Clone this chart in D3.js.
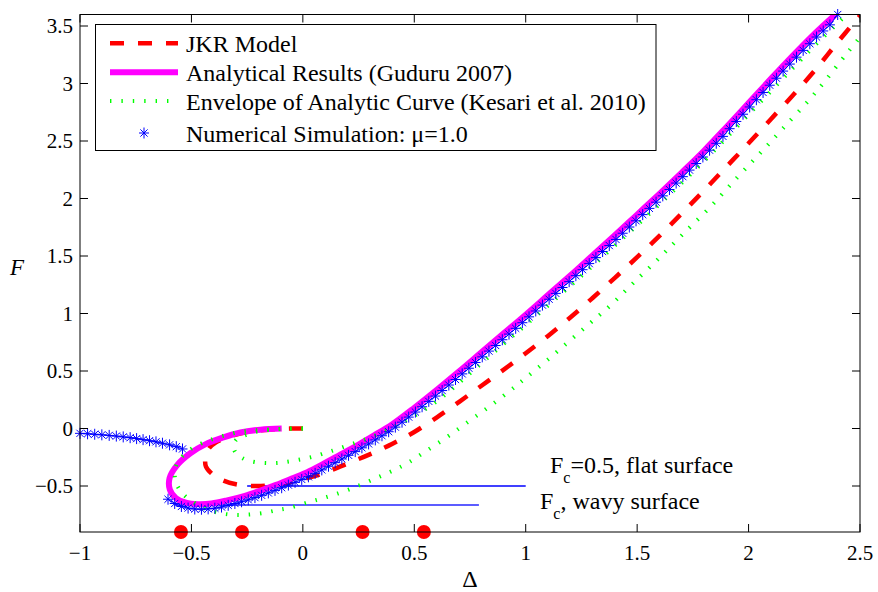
<!DOCTYPE html>
<html><head><meta charset="utf-8">
<script src="https://cdn.jsdelivr.net/npm/d3@7"></script>
<style>body{margin:0;background:#fff}svg{display:block}svg text{font-family:"Liberation Serif","Times New Roman",serif}</style>
</head><body>
<svg id="c" width="878" height="592"></svg>
<script>
// ---------- data ----------
const xTicks = [-1, -0.5, 0, 0.5, 1, 1.5, 2, 2.5];
const yTicks = [-0.5, 0, 0.5, 1, 1.5, 2, 2.5, 3, 3.5];
const legendLabels = ["JKR Model", "Analytical Results (Guduru 2007)", "Envelope of Analytic Curve (Kesari et al. 2010)", "Numerical Simulation: \u03bc=1.0"];

const jkrDelta = [0,-0.06,-0.15,-0.25,-0.33,-0.39,-0.42,-0.437,-0.435,-0.41,-0.36,-0.3,-0.22,-0.15,-0.08,0,0.06,0.13,0.2,0.3,0.4,0.5,0.6,0.7,0.8,0.9,1.0,1.1,1.2,1.3,1.4,1.5,1.6,1.7,1.8,1.9,2.0,2.1,2.2,2.3,2.4,2.5,2.55];
const jkrF = [0,-0.001,-0.01,-0.03,-0.07,-0.12,-0.17,-0.25,-0.33,-0.39,-0.45,-0.485,-0.5,-0.495,-0.475,-0.44,-0.41,-0.36,-0.305,-0.225,-0.135,-0.03,0.095,0.23,0.37,0.51,0.655,0.805,0.965,1.135,1.31,1.49,1.675,1.87,2.07,2.275,2.48,2.69,2.9,3.12,3.36,3.59,3.7];

const analyticDelta = [-0.095,-0.19,-0.28,-0.36,-0.44,-0.505,-0.565,-0.598,-0.597,-0.57,-0.525,-0.47,-0.41,-0.34,-0.26,-0.19,-0.12,-0.05,0.02,0.09,0.17,0.25,0.32,0.4,0.5,0.6,0.7,0.8,0.9,1.0,1.1,1.2,1.3,1.4,1.5,1.6,1.7,1.8,1.9,2.0,2.1,2.2,2.3,2.39];
const analyticF = [0.0,-0.01,-0.035,-0.08,-0.14,-0.215,-0.32,-0.43,-0.53,-0.605,-0.645,-0.658,-0.652,-0.625,-0.585,-0.54,-0.49,-0.435,-0.38,-0.31,-0.225,-0.14,-0.06,0.035,0.18,0.335,0.495,0.66,0.825,0.99,1.16,1.33,1.505,1.68,1.86,2.04,2.225,2.415,2.62,2.83,3.04,3.245,3.44,3.6];

const envInnerDelta = [0,-0.045,-0.11,-0.18,-0.235,-0.275,-0.3,-0.31,-0.305,-0.285,-0.255,-0.21,-0.155,-0.105,-0.055,0,0.05,0.1,0.15,0.213,0.28,0.35,0.42,0.5,0.6,0.7,0.8,0.9,1.0,1.2,1.4,1.6,1.8,2.0,2.2,2.3,2.44];
const envInnerF = [0,-0.001,-0.006,-0.018,-0.042,-0.072,-0.1,-0.15,-0.2,-0.24,-0.272,-0.293,-0.301,-0.298,-0.285,-0.265,-0.243,-0.213,-0.182,-0.14,-0.095,-0.04,0.025,0.11,0.235,0.395,0.565,0.735,0.9,1.24,1.59,1.95,2.325,2.73,3.135,3.335,3.6];

const envOuterDelta = [0,-0.08,-0.17,-0.27,-0.35,-0.43,-0.495,-0.54,-0.566,-0.575,-0.565,-0.535,-0.48,-0.42,-0.36,-0.3,-0.24,-0.18,-0.12,-0.06,0.03,0.1,0.18,0.26,0.33,0.4,0.47,0.55,0.65,0.75,0.85,0.95,1.0,1.1,1.27,1.38,1.48,1.59,1.7,1.83,1.95,2.05,2.15,2.3,2.44,2.52];
const envOuterF = [0,-0.002,-0.01,-0.025,-0.06,-0.11,-0.17,-0.24,-0.31,-0.4,-0.49,-0.575,-0.655,-0.71,-0.74,-0.752,-0.748,-0.735,-0.712,-0.69,-0.638,-0.6,-0.55,-0.49,-0.43,-0.37,-0.3,-0.2,-0.07,0.07,0.21,0.36,0.44,0.6,0.885,1.07,1.26,1.465,1.68,1.93,2.185,2.39,2.6,2.92,3.26,3.45];

const simLeftDelta = [-1.0,-0.966,-0.934,-0.902,-0.869,-0.837,-0.806,-0.775,-0.746,-0.717,-0.688,-0.659,-0.63,-0.598,-0.568,-0.54];
const simLeftF = [-0.042,-0.046,-0.05,-0.055,-0.06,-0.066,-0.073,-0.08,-0.088,-0.097,-0.106,-0.116,-0.128,-0.142,-0.158,-0.178];

const simMainDelta = [-0.605,-0.575,-0.545,-0.515,-0.485,-0.455,-0.425,-0.395,-0.365,-0.335,-0.305,-0.275,-0.245,-0.215,-0.185,-0.155,-0.125,-0.095,-0.065,-0.035,-0.005,0.025,0.055,0.085,0.115,0.145,0.175,0.205,0.235,0.265,0.295,0.325,0.355,0.385,0.415,0.445,0.475,0.505,0.535,0.565,0.595,0.625,0.655,0.685,0.715,0.745,0.775,0.805,0.835,0.865,0.895,0.925,0.955,0.985,1.015,1.045,1.075,1.105,1.135,1.165,1.195,1.225,1.255,1.285,1.315,1.345,1.375,1.405,1.435,1.465,1.495,1.525,1.555,1.585,1.615,1.645,1.675,1.705,1.735,1.765,1.795,1.825,1.855,1.885,1.915,1.945,1.975,2.005,2.035,2.065,2.095,2.125,2.155,2.185,2.215,2.245,2.275,2.305,2.335,2.365,2.4];
const simMainF = [-0.615,-0.652,-0.678,-0.692,-0.7,-0.702,-0.699,-0.693,-0.683,-0.668,-0.652,-0.637,-0.62,-0.601,-0.581,-0.56,-0.538,-0.515,-0.492,-0.468,-0.443,-0.42,-0.39,-0.36,-0.328,-0.297,-0.265,-0.233,-0.201,-0.168,-0.134,-0.099,-0.063,-0.028,0.012,0.055,0.099,0.143,0.189,0.236,0.282,0.33,0.378,0.426,0.475,0.524,0.574,0.623,0.673,0.722,0.772,0.821,0.871,0.92,0.971,1.022,1.073,1.124,1.175,1.226,1.277,1.329,1.381,1.434,1.486,1.539,1.591,1.644,1.698,1.752,1.806,1.86,1.914,1.968,2.023,2.078,2.134,2.19,2.247,2.304,2.361,2.42,2.48,2.54,2.607,2.67,2.733,2.796,2.859,2.922,2.985,3.046,3.108,3.169,3.229,3.288,3.346,3.404,3.457,3.51,3.6];

const flatFc = -0.5, flatRange = [-0.25, 1.0];
const wavyFc = -0.665, wavyRange = [-0.577, 0.79];
const dotDelta = [-0.547, -0.273, 0.268, 0.543];
const dotF = [-0.9, -0.9, -0.9, -0.9];

// ---------- drawing ----------
const zip = (a, b) => a.map((v, i) => [v, b[i]]);
const x = d3.scaleLinear().domain([-1, 2.5]).range([80, 860]);
const y = d3.scaleLinear().domain([-0.9, 3.6]).range([532, 14.5]);
const svg = d3.select("#c");
svg.append("rect").attr("width", 878).attr("height", 592).attr("fill", "#fff");
svg.append("defs").append("clipPath").attr("id", "clip").append("rect")
  .attr("x", x(-1)).attr("y", y(3.6)).attr("width", x(2.5) - x(-1)).attr("height", y(-0.9) - y(3.6));

const smooth = d3.line().x(d => x(d[0])).y(d => y(d[1])).curve(d3.curveCatmullRom.alpha(0.5));
const straight = d3.line().x(d => x(d[0])).y(d => y(d[1]));
const plot = svg.append("g").attr("clip-path", "url(#clip)");

// reference lines
plot.append("path").attr("d", straight([[flatRange[0], flatFc], [flatRange[1], flatFc]]))
  .attr("stroke", "#0000ff").attr("stroke-width", 1.3).attr("fill", "none");
plot.append("path").attr("d", straight([[wavyRange[0], wavyFc], [wavyRange[1], wavyFc]]))
  .attr("stroke", "#5c5cff").attr("stroke-width", 2).attr("fill", "none");

// numerical simulation
const starPath = "M-5,0H5M0,-5.5V5.5M-3.6,-3.6L3.6,3.6M-3.6,3.6L3.6,-3.6";
const simSegs = [zip(simLeftDelta, simLeftF), zip(simMainDelta, simMainF)];
const simG = svg.append("g");
simSegs.forEach(seg => {
  simG.append("path").attr("d", straight(seg)).attr("stroke", "#0000ff").attr("stroke-width", 1).attr("fill", "none");
  simG.selectAll(null).data(seg).enter().append("path")
    .attr("transform", d => `translate(${x(d[0])},${y(d[1])})`)
    .attr("d", starPath).attr("stroke", "#0000ff").attr("stroke-width", 1).attr("fill", "none");
});

// JKR
plot.append("path").attr("d", smooth(zip(jkrDelta, jkrF)))
  .attr("stroke", "#ff0000").attr("stroke-width", 4.5).attr("stroke-dasharray", "14,14").attr("fill", "none");
// analytical
plot.append("path").attr("d", smooth(zip(analyticDelta, analyticF)))
  .attr("stroke", "#ff00ff").attr("stroke-width", 6).attr("fill", "none").attr("stroke-linejoin", "round");
// envelopes
[zip(envInnerDelta, envInnerF), zip(envOuterDelta, envOuterF)].forEach(seg => {
  plot.append("path").attr("d", smooth(seg))
    .attr("stroke", "#00ff00").attr("stroke-width", 4).attr("stroke-dasharray", "1.4,10").attr("fill", "none");
});

// red dots
svg.append("g").selectAll("circle").data(zip(dotDelta, dotF)).enter().append("circle")
  .attr("cx", d => x(d[0])).attr("cy", d => y(d[1])).attr("r", 7).attr("fill", "#ff0000");

// axes box & ticks
const ax = svg.append("g").attr("stroke", "#000").attr("stroke-width", 1).attr("fill", "none");
ax.append("rect").attr("x", x(-1)).attr("y", y(3.6)).attr("width", x(2.5) - x(-1)).attr("height", y(-0.9) - y(3.6));
xTicks.forEach(t => {
  ax.append("line").attr("x1", x(t)).attr("x2", x(t)).attr("y1", y(-0.9)).attr("y2", y(-0.9) - 8);
  ax.append("line").attr("x1", x(t)).attr("x2", x(t)).attr("y1", y(3.6)).attr("y2", y(3.6) + 8);
});
yTicks.forEach(t => {
  ax.append("line").attr("x1", x(-1)).attr("x2", x(-1) + 8).attr("y1", y(t)).attr("y2", y(t));
  ax.append("line").attr("x1", x(2.5)).attr("x2", x(2.5) - 8).attr("y1", y(t)).attr("y2", y(t));
});
const fmt = v => String(v).replace("-", "\u2212");
svg.append("g").selectAll("text").data(xTicks).enter().append("text")
  .attr("x", d => x(d)).attr("y", 560).attr("text-anchor", "middle")
  .attr("font-size", 21).text(fmt);
svg.append("g").selectAll("text").data(yTicks).enter().append("text")
  .attr("x", 73).attr("y", d => y(d) + 7).attr("text-anchor", "end")
  .attr("font-size", 21).text(fmt);

// axis labels
svg.append("text").attr("x", 470).attr("y", 587).attr("text-anchor", "middle")
  .attr("font-size", 24).text("\u0394");
svg.append("text").attr("x", 10).attr("y", 275).attr("font-style", "italic")
  .attr("font-size", 23).text("F");

// annotations
function annot(xp, yp, rest) {
  const t = svg.append("text").attr("x", xp).attr("y", yp).attr("font-size", 24);
  t.append("tspan").text("F");
  t.append("tspan").attr("dy", 10).attr("font-size", 16).text("c");
  t.append("tspan").attr("dy", -10).text(rest);
}
annot(550, 473, "=0.5, flat surface");
annot(540, 509, ", wavy surface");

// legend
const lg = svg.append("g");
lg.append("rect").attr("x", 95.5).attr("y", 24.5).attr("width", 560.5).attr("height", 126)
  .attr("fill", "#fff").attr("stroke", "#000").attr("stroke-width", 1);
const rowsY = [43.3, 72.3, 101, 133];
lg.append("line").attr("x1", 110).attr("x2", 178).attr("y1", rowsY[0]).attr("y2", rowsY[0])
  .attr("stroke", "#ff0000").attr("stroke-width", 4.5).attr("stroke-dasharray", "14,14");
lg.append("line").attr("x1", 110).attr("x2", 178).attr("y1", rowsY[1]).attr("y2", rowsY[1])
  .attr("stroke", "#ff00ff").attr("stroke-width", 6);
lg.append("line").attr("x1", 110).attr("x2", 178).attr("y1", rowsY[2]).attr("y2", rowsY[2])
  .attr("stroke", "#00ff00").attr("stroke-width", 4).attr("stroke-dasharray", "1.4,10");
lg.append("path").attr("transform", `translate(144,${rowsY[3]})`).attr("d", starPath)
  .attr("stroke", "#0000ff").attr("stroke-width", 1).attr("fill", "none");
lg.selectAll("text").data(legendLabels).enter().append("text")
  .attr("x", 186).attr("y", (d, i) => rowsY[i] + 8.5)
  .attr("font-size", 24).text(d => d);
</script>
</body></html>
